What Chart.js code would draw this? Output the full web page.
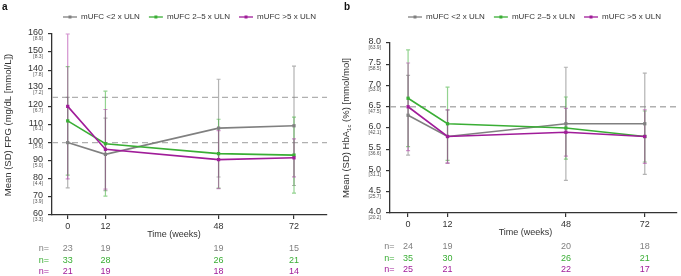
<!DOCTYPE html>
<html>
<head>
<meta charset="utf-8">
<script src="https://cdn.jsdelivr.net/npm/chart.js@4"></script>
<style>
    html, body { margin: 0; padding: 0; background: #fff; }
    #panel_a { position: absolute; left: 0; top: 0; }
    #panel_b { position: absolute; left: 340px; top: 0; }
</style>
</head>
<body>
<canvas id="panel_a" width="340" height="276"></canvas>
<canvas id="panel_b" width="341" height="276"></canvas>
<script>
// datos
const semanas = [0, 12, 48, 72];
const grupos = ['mUFC <2 x ULN', 'mUFC 2\u20135 x ULN', 'mUFC >5 x ULN'];

// FPG (mg/dL)
const fpg_bajo = [100, 93.5, 108, 109.3];
const fpg_bajo_sd = [25, 20, 27, 33];
const fpg_medio = [112, 99.4, 93.9, 93.1];
const fpg_medio_sd = [30, 29, 19, 21];
const fpg_alto = [120, 96.3, 90.6, 91.6];
const fpg_alto_sd = [40, 22, 16, 10.5];
const fpg_n_bajo = [23, 19, 19, 15];
const fpg_n_medio = [33, 28, 26, 21];
const fpg_n_alto = [21, 19, 18, 14];
const fpg_ticks = ['60', '70', '80', '90', '100', '110', '120', '130', '140', '150', '160'];
const fpg_mmol = ['3.3', '3.9', '4.4', '5.0', '5.6', '6.1', '6.7', '7.2', '7.8', '8.3', '8.9'];
const fpg_referencia = [100, 125];

// HbA1c (%)
const hba_bajo = [6.3, 5.8, 6.1, 6.1];
const hba_bajo_sd = [0.94, 0.62, 1.33, 1.19];
const hba_medio = [6.7, 6.1, 6.0, 5.8];
const hba_medio_sd = [1.14, 0.86, 0.73, 0.6];
const hba_alto = [6.5, 5.8, 5.9, 5.8];
const hba_alto_sd = [1.03, 0.63, 0.56, 0.63];
const hba_n_bajo = [24, 19, 20, 18];
const hba_n_medio = [35, 30, 26, 21];
const hba_n_alto = [25, 21, 22, 17];
const hba_ticks = ['4.0', '4.5', '5.0', '5.5', '6.0', '6.5', '7.0', '7.5', '8.0'];
const hba_mmol = ['20.2', '25.7', '31.1', '36.6', '42.1', '47.5', '53.0', '58.5', '63.9'];
const hba_referencia = [6.5];

const colores = ['#808080', '#3aae35', '#a01c99'];
const colores_sd = ['rgba(128,128,128,0.6)', 'rgba(58,174,53,0.55)', 'rgba(170,40,160,0.5)'];
const FUENTE = '"Liberation Sans", Arial, sans-serif';

const pluginPanel = {
    id: 'panel',
    beforeDatasetsDraw(chart, args, o) {
        const { ctx, chartArea, scales: { y } } = chart;
        ctx.save();
        // lineas de referencia
        ctx.strokeStyle = '#b0b0b0';
        ctx.lineWidth = 1.3;
        ctx.setLineDash([6, 4]);
        o.referencia.forEach(v => {
            const py = y.getPixelForValue(v);
            ctx.beginPath();
            ctx.moveTo(chartArea.left, py);
            ctx.lineTo(chartArea.right, py);
            ctx.stroke();
        });
        ctx.setLineDash([]);
        // barras de error (SD)
        chart.data.datasets.forEach((ds, i) => {
            const meta = chart.getDatasetMeta(i);
            ctx.strokeStyle = colores_sd[i];
            ctx.lineWidth = 1.2;
            ds.data.forEach((p, j) => {
                const sd = o.sd[i][j];
                const px = meta.data[j].x;
                const top = y.getPixelForValue(p.y + sd);
                const bot = y.getPixelForValue(p.y - sd);
                ctx.beginPath();
                ctx.moveTo(px, top); ctx.lineTo(px, bot);
                ctx.moveTo(px - 2, top); ctx.lineTo(px + 2, top);
                ctx.moveTo(px - 2, bot); ctx.lineTo(px + 2, bot);
                ctx.stroke();
            });
        });
        ctx.restore();
    },
    afterDraw(chart, args, o) {
        const { ctx, chartArea, scales: { x, y } } = chart;
        ctx.save();

        // etiquetas del eje y con valor en mmol
        ctx.textAlign = 'right';
        y.ticks.forEach((t, k) => {
            const py = y.getPixelForValue(t.value);
            ctx.fillStyle = '#333';
            ctx.font = '9px ' + FUENTE;
            ctx.textBaseline = 'alphabetic';
            ctx.fillText(o.ticks[k], chartArea.left - 9, py + 1);
            ctx.fillStyle = '#555';
            ctx.font = '5px ' + FUENTE;
            ctx.textBaseline = 'top';
            ctx.fillText('[' + o.mmol[k] + ']', chartArea.left - 9, py + 2);
        });

        // titulo eje y (rotado)
        ctx.save();
        ctx.translate(o.tituloY.x, o.tituloY.y);
        ctx.rotate(-Math.PI / 2);
        ctx.fillStyle = '#333';
        ctx.textBaseline = 'middle';
        ctx.textAlign = 'left';
        const partes = o.tituloY.partes;
        let total = 0;
        partes.forEach(pt => {
            ctx.font = (pt.sub ? '6px ' : '9.5px ') + FUENTE;
            total += ctx.measureText(pt.t).width;
        });
        let cx = -total / 2;
        partes.forEach(pt => {
            ctx.font = (pt.sub ? '6px ' : '9.5px ') + FUENTE;
            ctx.fillText(pt.t, cx, pt.sub ? 3 : 0);
            cx += ctx.measureText(pt.t).width;
        });
        ctx.restore();

        // titulo eje x
        ctx.fillStyle = '#333';
        ctx.font = '9px ' + FUENTE;
        ctx.textAlign = 'center';
        ctx.textBaseline = 'middle';
        ctx.fillText('Time (weeks)', o.tituloX, chartArea.bottom + 20);

        // tabla n=
        const filas = [34, 45.5, 57];
        o.n.forEach((fila, i) => {
            ctx.fillStyle = colores[i];
            const py = chartArea.bottom + filas[i];
            ctx.fillText('n=', o.nX, py);
            fila.forEach((v, j) => {
                ctx.fillText(String(v), x.getPixelForValue(semanas[j]), py);
            });
        });

        // leyenda
        ctx.font = '8px ' + FUENTE;
        ctx.textAlign = 'left';
        let lx = o.leyendaX;
        const ly = 17;
        grupos.forEach((g, i) => {
            ctx.strokeStyle = colores[i];
            ctx.fillStyle = colores[i];
            ctx.lineWidth = 1.3;
            ctx.beginPath();
            ctx.moveTo(lx, ly); ctx.lineTo(lx + 14, ly);
            ctx.stroke();
            ctx.fillRect(lx + 5.5, ly - 1.5, 3, 3);
            ctx.fillStyle = '#333';
            ctx.fillText(g, lx + 18, ly);
            lx += 18 + ctx.measureText(g).width + 9;
        });

        // letra del panel
        ctx.fillStyle = '#111';
        ctx.font = 'bold 10px ' + FUENTE;
        ctx.textBaseline = 'top';
        ctx.fillText(o.letra, o.letraX, 2);
        ctx.restore();
    }
};

function crearPanel(id, series, sds, cfg) {
    const datasets = series.map((serie, i) => ({
        label: grupos[i],
        data: serie.map((v, j) => ({ x: semanas[j], y: v })),
        borderColor: colores[i],
        backgroundColor: colores[i],
        borderWidth: 1.6,
        pointStyle: 'rect',
        pointRadius: 2.3,
        pointBorderWidth: 0,
        tension: 0,
        order: 2 - i
    }));

    const ctx = document.getElementById(id).getContext('2d');
    return new Chart(ctx, {
        type: 'line',
        data: { datasets: datasets },
        plugins: [pluginPanel],
        options: {
            responsive: false,
            animation: false,
            devicePixelRatio: 1,
            layout: { padding: { left: 0, right: cfg.padDer, top: cfg.padSup, bottom: 0 } },
            scales: {
                x: {
                    type: 'linear',
                    min: cfg.xMin,
                    max: cfg.xMax,
                    afterBuildTicks: s => { s.ticks = semanas.map(v => ({ value: v })); },
                    afterFit: s => { s.height = cfg.altoX; },
                    grid: { drawOnChartArea: false, drawTicks: true, tickLength: 4, color: '#333', lineWidth: 1.2 },
                    border: { color: '#333', width: 1.3 },
                    ticks: { color: '#333', font: { size: 9, family: FUENTE }, padding: 2, maxRotation: 0 }
                },
                y: {
                    min: cfg.yMin,
                    max: cfg.yMax,
                    ticks: { stepSize: cfg.yPaso, display: false },
                    afterFit: s => { s.width = cfg.anchoY; },
                    grid: { drawOnChartArea: false, drawTicks: true, tickLength: 4, color: '#333', lineWidth: 1.2 },
                    border: { color: '#333', width: 1.3 }
                }
            },
            plugins: {
                legend: { display: false },
                tooltip: { enabled: false },
                panel: {
                    sd: sds,
                    referencia: cfg.referencia,
                    ticks: cfg.ticks,
                    mmol: cfg.mmol,
                    n: cfg.n,
                    nX: cfg.nX,
                    tituloX: cfg.tituloX,
                    tituloY: cfg.tituloY,
                    leyendaX: cfg.leyendaX,
                    letra: cfg.letra,
                    letraX: cfg.letraX
                }
            }
        }
    });
}

crearPanel('panel_a',
    [fpg_bajo, fpg_medio, fpg_alto],
    [fpg_bajo_sd, fpg_medio_sd, fpg_alto_sd],
    {
        padDer: 13, padSup: 34, altoX: 61, anchoY: 52,
        xMin: -5, xMax: 82.5, yMin: 60, yMax: 160, yPaso: 10,
        referencia: fpg_referencia, ticks: fpg_ticks, mmol: fpg_mmol,
        n: [fpg_n_bajo, fpg_n_medio, fpg_n_alto], nX: 44, tituloX: 174,
        tituloY: { x: 8, y: 125, partes: [{ t: 'Mean (SD) FPG (mg/dL [mmol/L])' }] },
        leyendaX: 63, letra: 'a', letraX: 2
    });

crearPanel('panel_b',
    [hba_bajo, hba_medio, hba_alto],
    [hba_bajo_sd, hba_medio_sd, hba_alto_sd],
    {
        padDer: 1, padSup: 43, altoX: 63, anchoY: 50,
        xMin: -5.5, xMax: 81.8, yMin: 4, yMax: 8, yPaso: 0.5,
        referencia: hba_referencia, ticks: hba_ticks, mmol: hba_mmol,
        n: [hba_n_bajo, hba_n_medio, hba_n_alto], nX: 49.5, tituloX: 185.5,
        tituloY: { x: 6, y: 128, partes: [{ t: 'Mean (SD) HbA' }, { t: '1c', sub: true }, { t: ' (%) [mmol/mol]' }] },
        leyendaX: 68, letra: 'b', letraX: 4
    });
</script>
</body>
</html>
